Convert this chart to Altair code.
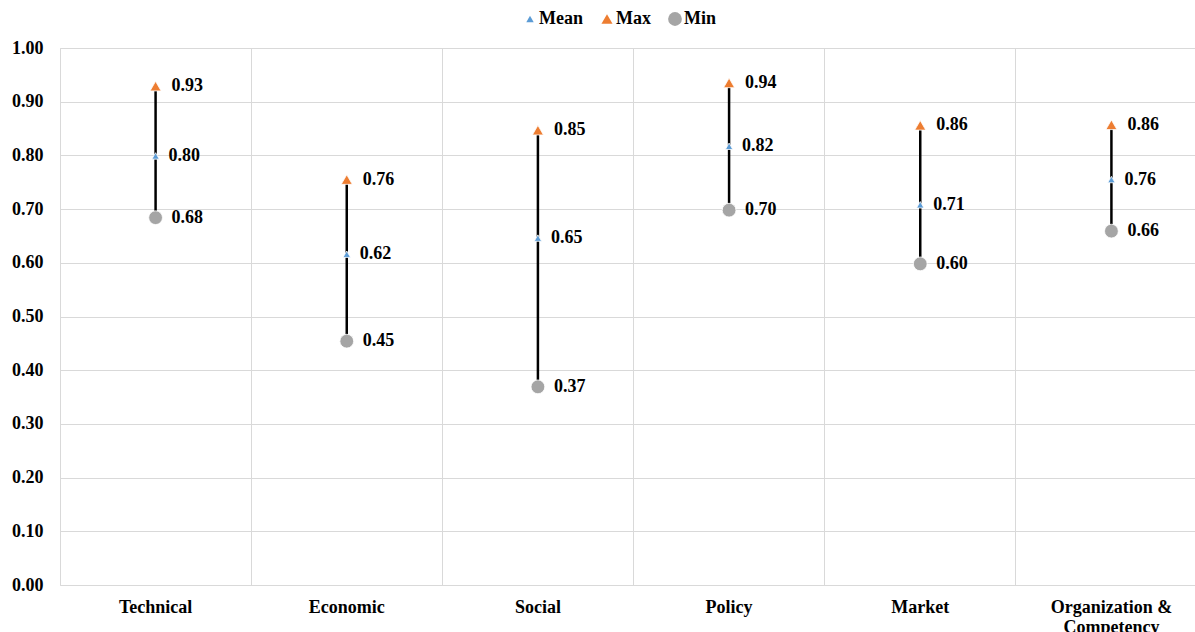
import altair as alt
import pandas as pd

categories = ["Technical", "Economic", "Social", "Policy", "Market", "Organization & Competency"]
mean_vals = [0.799, 0.616, 0.646, 0.817, 0.708, 0.755]
max_vals = [0.929, 0.755, 0.847, 0.935, 0.856, 0.857]
min_vals = [0.684, 0.454, 0.369, 0.698, 0.598, 0.659]
series = ["Mean", "Max", "Min"]
colors = ["#5B9BD5", "#ED7D31", "#A5A5A5"]
shapes = ["triangle-up", "triangle-up", "circle"]
sizes = [55, 190, 130]

wide = pd.DataFrame({"cat": categories, "Mean": mean_vals, "Max": max_vals, "Min": min_vals})
long = wide.melt(id_vars="cat", value_vars=series, var_name="series", value_name="value")

FONT = "Liberation Serif"
xscale = alt.Scale(domain=categories, range=[0, 1147], paddingInner=0, paddingOuter=0)
yscale = alt.Scale(domain=[0, 1])

xenc = alt.X("cat:N", scale=xscale, sort=categories, title=None,
             axis=alt.Axis(bandPosition=0, grid=True, gridColor="#d9d9d9", domain=False, ticks=False,
                           labelAngle=0, labelFont=FONT, labelFontSize=18, labelFontWeight="bold",
                           labelColor="black", labelPadding=13, labelLineHeight=20,
                           labelExpr="datum.label == 'Organization & Competency' ? ['Organization &', 'Competency'] : datum.label"))

rule = alt.Chart(wide).mark_rule(color="black", strokeWidth=2.5).encode(
    x=xenc,
    y=alt.Y("Min:Q", scale=yscale, title=None,
            axis=alt.Axis(values=[i / 10 for i in range(11)], format=".2f", grid=True, gridColor="#d9d9d9",
                          domain=False, ticks=False, labelFont=FONT, labelFontSize=18, labelFontWeight="bold",
                          labelColor="black", labelPadding=17)),
    y2="Max:Q",
)

points = alt.Chart(long).mark_point(filled=True, opacity=1, stroke="white", strokeWidth=0.8).encode(
    x=alt.X("cat:N", scale=xscale, sort=categories),
    y=alt.Y("value:Q", scale=yscale),
    color=alt.Color("series:N", scale=alt.Scale(domain=series, range=colors), sort=series,
                    legend=alt.Legend(title=None, orient="none", direction="horizontal", legendX=461, legendY=-38,
                                      labelFont=FONT, labelFontSize=18, labelFontWeight="bold", labelColor="black",
                                      symbolSize=45, symbolStrokeWidth=0, columnPadding=15, labelOffset=0)),
    shape=alt.Shape("series:N", scale=alt.Scale(domain=series, range=shapes), sort=series),
    size=alt.Size("series:N", scale=alt.Scale(domain=series, range=sizes), legend=None),
    order=alt.Order("ord:Q"),
).transform_calculate(ord="datum.series == 'Mean' ? 3 : (datum.series == 'Max' ? 1 : 2)")

text_common = dict(align="left", baseline="middle", font=FONT, fontSize=18, fontWeight="bold", color="black")
text_mean = alt.Chart(long).transform_filter("datum.series == 'Mean'").mark_text(dx=13, **text_common).encode(
    x=alt.X("cat:N", scale=xscale, sort=categories),
    y=alt.Y("value:Q", scale=yscale),
    text=alt.Text("value:Q", format=".2f"),
)
text_other = alt.Chart(long).transform_filter("datum.series != 'Mean'").mark_text(dx=16, **text_common).encode(
    x=alt.X("cat:N", scale=xscale, sort=categories),
    y=alt.Y("value:Q", scale=yscale),
    text=alt.Text("value:Q", format=".2f"),
)

chart = alt.layer(rule, points, text_mean, text_other).properties(
    width=1135, height=537,
    autosize=alt.AutoSizeParams(type="none"),
    padding={"left": 60, "top": 48, "right": 0, "bottom": 47},
).configure_view(stroke=None).configure(background="white")

chart.save("out.html", embed_options={"renderer": "svg", "actions": False})
